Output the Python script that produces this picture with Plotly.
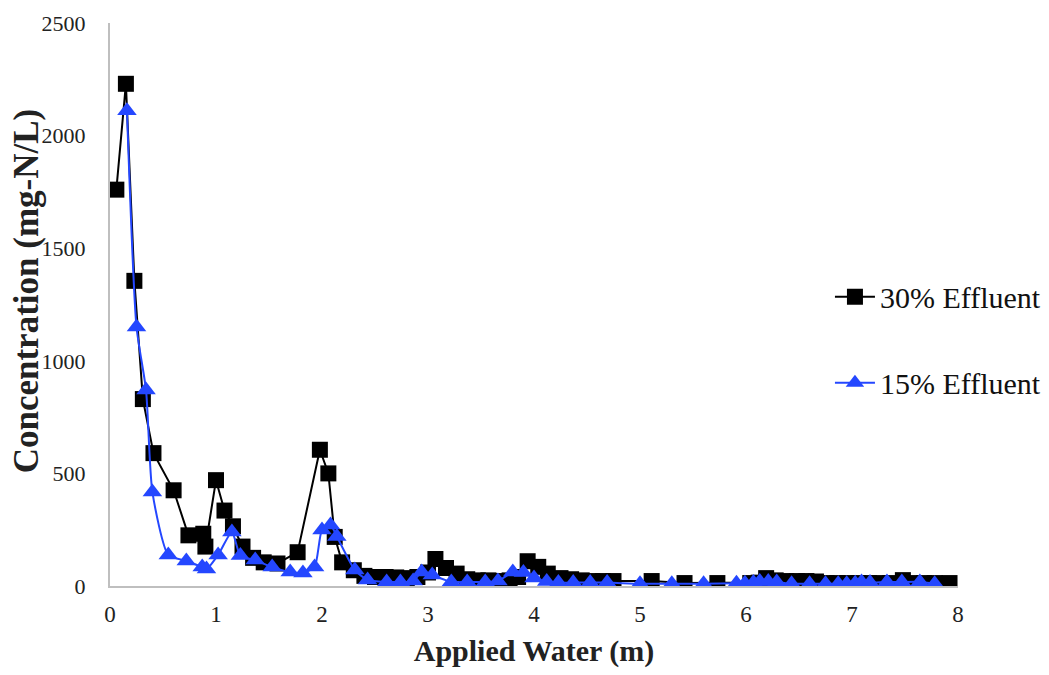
import plotly.graph_objects as go

# 30% effluent leachate series
water_30 = [0.06, 0.15, 0.23, 0.31, 0.41, 0.60, 0.74, 0.88, 0.90, 1.00, 1.08, 1.16,
            1.25, 1.35, 1.45, 1.58, 1.77, 1.98, 2.06, 2.12, 2.19, 2.30, 2.40, 2.50,
            2.60, 2.70, 2.80, 2.90, 3.00, 3.07, 3.17, 3.27, 3.37, 3.47, 3.57, 3.67,
            3.77, 3.85, 3.94, 4.04, 4.13, 4.25, 4.35, 4.45, 4.55, 4.65, 4.75, 5.11,
            5.42, 5.73, 6.04, 6.12, 6.19, 6.28, 6.38, 6.48, 6.57, 6.66, 6.76, 6.86,
            6.96, 7.06, 7.16, 7.26, 7.36, 7.48, 7.58, 7.68, 7.78, 7.92]
conc_30 = [1760, 2230, 1355, 830, 590, 425, 225, 232, 175, 470, 335, 265,
           175, 125, 105, 100, 150, 605, 500, 218, 105, 70, 45, 40,
           40, 38, 35, 40, 60, 120, 80, 55, 30, 25, 25, 22,
           25, 40, 110, 85, 55, 35, 30, 25, 22, 22, 22, 22,
           13, 13, 13, 15, 35, 25, 22, 22, 22, 20, 13, 13,
           13, 13, 13, 13, 13, 26, 13, 13, 13, 13]

# 15% effluent leachate series
water_15 = [0.16, 0.25, 0.34, 0.40, 0.55, 0.72, 0.87, 0.91, 1.02, 1.15, 1.23, 1.37,
            1.53, 1.70, 1.82, 1.93, 2.00, 2.08, 2.14, 2.31, 2.43, 2.61, 2.74, 2.86,
            2.94, 3.04, 3.22, 3.37, 3.54, 3.66, 3.80, 3.90, 4.00, 4.12, 4.23, 4.37,
            4.53, 4.69, 5.00, 5.30, 5.60, 5.91, 5.99, 6.07, 6.13, 6.21, 6.29, 6.43,
            6.60, 6.75, 6.87, 6.95, 7.03, 7.09, 7.17, 7.33, 7.47, 7.64, 7.78]
conc_15 = [2110, 1150, 870, 417, 138, 111, 84, 75, 138, 240, 135, 115,
           84, 62, 58, 84, 249, 271, 220, 71, 27, 18, 18, 22,
           62, 49, 18, 18, 18, 22, 62, 60, 35, 20, 15, 15,
           15, 15, 10, 10, 10, 12, 12, 15, 20, 20, 18, 10,
           10, 10, 10, 10, 12, 18, 15, 18, 18, 18, 10]

x_ticks = [0, 1, 2, 3, 4, 5, 6, 7, 8]
y_ticks = [0, 500, 1000, 1500, 2000, 2500]

serif = "Liberation Serif, Times New Roman, serif"
blue = "#2447ff"

fig = go.Figure()
fig.add_trace(go.Scatter(
    x=water_30, y=conc_30, name="30% Effluent", mode="lines+markers",
    line=dict(color="#000000", width=2),
    marker=dict(symbol="square", size=16, color="#000000"),
    legendgroup="a",
))
fig.add_trace(go.Scatter(
    x=water_15, y=conc_15, name="15% Effluent", mode="lines+markers",
    line=dict(color=blue, width=2, shape="spline", smoothing=0.6),
    marker=dict(symbol="triangle-up", size=17, color=blue),
    legendgroup="b",
))

# Vertical axis title placed as a rotated annotation left of the tick labels
fig.add_annotation(
    text="<b>Concentration (mg-N/L)</b>", textangle=-90,
    xref="paper", yref="paper", x=-0.098, y=0.525,
    xanchor="center", yanchor="middle", showarrow=False,
    font=dict(family=serif, size=35, color="#222222"),
)

fig.update_layout(
    width=1049, height=675,
    margin=dict(l=110, r=91, t=23, b=89, autoexpand=False),
    paper_bgcolor="white", plot_bgcolor="white",
    font=dict(family=serif, size=22, color="#222222"),
    showlegend=True,
    legend=dict(
        x=0.849, y=0.56, xanchor="left", yanchor="top",
        font=dict(family=serif, size=30, color="#111111"),
        tracegroupgap=44, traceorder="grouped",
        bgcolor="rgba(0,0,0,0)", itemwidth=40,
    ),
    xaxis=dict(
        range=[0, 8], tickvals=x_ticks, ticktext=[str(v) for v in x_ticks],
        showgrid=False, zeroline=False,
        showline=True, linecolor="#bfbfbf", linewidth=2,
        ticks="", ticklabelstandoff=6,
        tickfont=dict(family=serif, size=23, color="#222222"),
        title=dict(text="<b>Applied Water (m)</b>", standoff=14,
                   font=dict(family=serif, size=30, color="#222222")),
    ),
    yaxis=dict(
        range=[0, 2500], tickvals=y_ticks, ticktext=[str(v) for v in y_ticks],
        showgrid=False, zeroline=False,
        showline=True, linecolor="#bfbfbf", linewidth=2,
        ticks="", ticklabelstandoff=18,
        tickfont=dict(family=serif, size=22, color="#222222"),
    ),
)

fig.write_html("out.html")
